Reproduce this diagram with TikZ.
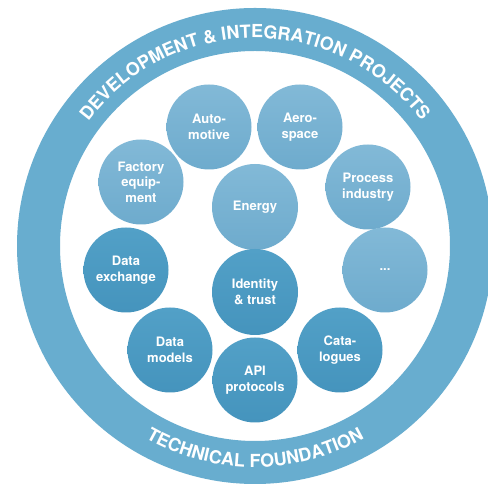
\documentclass[tikz,border=0pt]{standalone}
\usepackage{fontspec}
\newfontfamily\heros{TeX Gyre Heros}
\usetikzlibrary{decorations.text}
\definecolor{ringblue}{HTML}{68ADCF}
\definecolor{lighttop}{HTML}{82B9D7}
\definecolor{lightbot}{HTML}{6EABCD}
\definecolor{darktop}{HTML}{52A0C7}
\definecolor{darkbot}{HTML}{4594BD}
\tikzset{
  bubble/.style={circle, minimum size=85pt, inner sep=0pt, text=white,
    align=center, font=\heros\bfseries\fontsize{13}{15.5}\selectfont},
  lightbubble/.style={bubble, top color=lighttop, bottom color=lightbot},
  darkbubble/.style={bubble, top color=darktop, bottom color=darkbot},
}
\begin{document}
\begin{tikzpicture}[x=1pt,y=1pt]
\useasboundingbox (0,0) rectangle (488,484);
\fill[white] (0,0) rectangle (488,484);
\coordinate (c) at (255,238);
% ring
\fill[ringblue, even odd rule] (c) circle[radius=238] (c) circle[radius=195];
% ring texts
\path[decorate, decoration={text along path, text align=center, text color=white,
  text={|\heros\bfseries\fontsize{18}{18}\selectfont|DEVELOPMENT {\&} INTEGRATION PROJECTS}}]
  ([shift={(180:208)}]c) arc[start angle=180, end angle=0, radius=208];
\path[decorate, decoration={text along path, text align=center, text color=white,
  text={|\heros\bfseries\fontsize{18}{18}\selectfont|TECHNICAL FOUNDATION}}]
  ([shift={(190:221)}]c) arc[start angle=190, end angle=350, radius=221];
% bubbles
\node[lightbubble] (auto) at (209,357) {Auto-\\motive};
\node[lightbubble] (aero) at (300,357) {Aero-\\space};
\node[lightbubble] (factory) at (141,302) {Factory\\equip-\\ment};
\node[lightbubble, minimum size=86pt] (energy) at (255,277) {Energy};
\node[lightbubble] (process) at (368,297) {Process\\industry};
\node[darkbubble] (dataex) at (126,214) {Data\\exchange};
\node[darkbubble, minimum size=86pt] (identity) at (255,192) {Identity\\\& trust};
\node[lightbubble] (more) at (385,214) {...};
\node[darkbubble] (models) at (170,134) {Data\\models};
\node[darkbubble] (api) at (255,104) {API\\protocols};
\node[darkbubble] (cata) at (340,134) {Cata-\\logues};
\end{tikzpicture}
\end{document}
